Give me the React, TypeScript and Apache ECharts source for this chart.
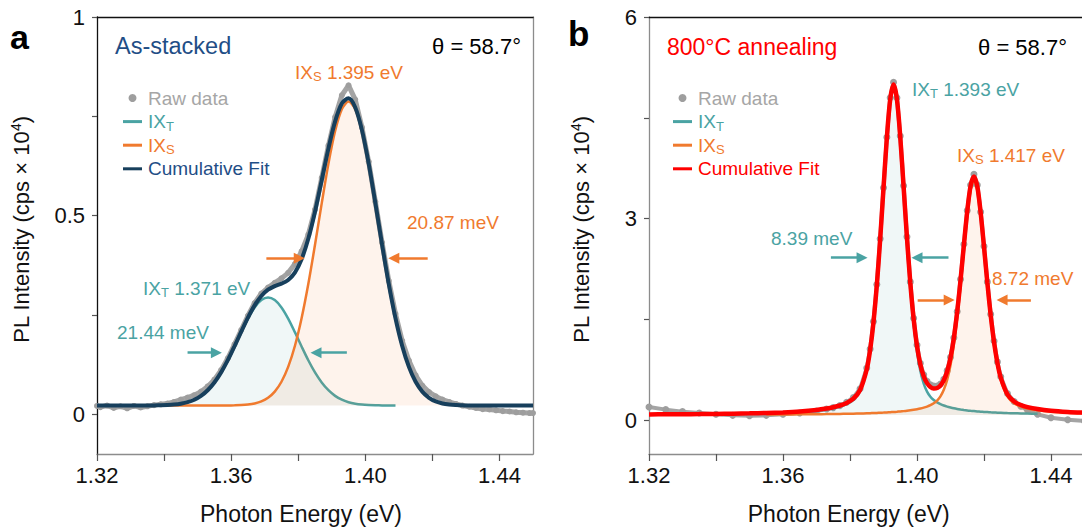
import { useEffect, useRef } from 'react';
import * as echarts from 'echarts';

const FONT = '"Liberation Sans", Arial, Helvetica, sans-serif';
const TEAL = '#4AA3A3';
const ORANGE = '#F07A2E';
const NAVY = '#173F5C';
const RED = '#FF0000';
const GREY = '#9E9E9E';

// ---------- Panel a (as-stacked) ----------
const energyA = [1.320, 1.321, 1.323, 1.325, 1.327, 1.329, 1.331, 1.333, 1.335, 1.337, 1.339, 1.341, 1.343, 1.345, 1.347, 1.349, 1.351, 1.353, 1.355, 1.357, 1.359, 1.361, 1.363, 1.365, 1.367, 1.369, 1.371, 1.373, 1.375, 1.377, 1.379, 1.381, 1.383, 1.385, 1.387, 1.389, 1.391, 1.393, 1.395, 1.397, 1.399, 1.401, 1.403, 1.405, 1.407, 1.409, 1.411, 1.413, 1.415, 1.417, 1.419, 1.421, 1.423, 1.425, 1.427, 1.429, 1.431, 1.433, 1.435, 1.437, 1.439, 1.441, 1.443, 1.445, 1.447, 1.449, 1.450];
const rawA = [0.021, 0.018, 0.022, 0.016, 0.020, 0.015, 0.021, 0.017, 0.020, 0.023, 0.025, 0.027, 0.031, 0.037, 0.042, 0.048, 0.057, 0.070, 0.087, 0.111, 0.141, 0.176, 0.212, 0.248, 0.280, 0.304, 0.319, 0.331, 0.342, 0.356, 0.378, 0.410, 0.452, 0.515, 0.595, 0.676, 0.748, 0.803, 0.828, 0.792, 0.722, 0.636, 0.535, 0.432, 0.336, 0.253, 0.185, 0.135, 0.098, 0.072, 0.056, 0.045, 0.037, 0.031, 0.026, 0.022, 0.019, 0.016, 0.013, 0.012, 0.010, 0.008, 0.007, 0.005, 0.004, 0.003, 0.003];
const cumA = [0.022, 0.022, 0.022, 0.022, 0.022, 0.022, 0.022, 0.022, 0.0221, 0.0223, 0.0226, 0.0232, 0.0244, 0.0266, 0.0304, 0.0366, 0.0463, 0.0605, 0.0800, 0.1054, 0.1362, 0.1712, 0.2079, 0.2434, 0.2742, 0.2978, 0.3135, 0.3225, 0.3288, 0.3381, 0.3566, 0.3903, 0.4417, 0.5099, 0.5889, 0.6688, 0.7372, 0.7823, 0.7954, 0.7723, 0.7153, 0.6315, 0.5315, 0.4269, 0.3277, 0.2416, 0.1718, 0.1192, 0.0818, 0.0570, 0.0415, 0.0323, 0.0272, 0.0245, 0.0231, 0.0225, 0.022, 0.022, 0.022, 0.022, 0.022, 0.022, 0.022, 0.022, 0.022, 0.022, 0.022];
const ixtA = [null, null, null, null, null, null, null, null, null, null, null, 0.0232, 0.0244, 0.0266, 0.0304, 0.0366, 0.0463, 0.0605, 0.0800, 0.1053, 0.1360, 0.1707, 0.2068, 0.2409, 0.2690, 0.2875, 0.294, 0.2875, 0.2690, 0.2409, 0.2068, 0.1707, 0.1360, 0.1053, 0.0800, 0.0605, 0.0463, 0.0366, 0.0304, 0.0266, 0.0244, 0.0232, 0.0226, 0.0223, 0.0221, 0.022, null, null, null, null, null, null, null, null, null, null, null, null, null, null, null, null, null, null, null, null, null];
const ixsA = [null, null, null, null, null, null, null, null, null, null, null, 0.022, 0.022, 0.022, 0.022, 0.022, 0.022, 0.022, 0.022, 0.0221, 0.0222, 0.0225, 0.0231, 0.0245, 0.0272, 0.0323, 0.0415, 0.0570, 0.0818, 0.1192, 0.1718, 0.2416, 0.3277, 0.4266, 0.5309, 0.6303, 0.7129, 0.7677, 0.787, 0.7677, 0.7129, 0.6303, 0.5309, 0.4266, 0.3277, 0.2416, 0.1718, 0.1192, 0.0818, 0.0570, 0.0415, 0.0323, 0.0272, 0.0245, null, null, null, null, null, null, null, null, null, null, null, null, null];
const baseA = 0.022;

// ---------- Panel b (800 °C annealing) ----------
const energyB = [1.320, 1.325, 1.330, 1.335, 1.340, 1.345, 1.350, 1.355, 1.360, 1.365, 1.370, 1.373, 1.375, 1.377, 1.379, 1.381, 1.383, 1.385, 1.386, 1.387, 1.388, 1.389, 1.390, 1.391, 1.392, 1.393, 1.394, 1.395, 1.396, 1.397, 1.398, 1.399, 1.400, 1.401, 1.402, 1.403, 1.404, 1.405, 1.406, 1.407, 1.408, 1.409, 1.410, 1.411, 1.412, 1.413, 1.414, 1.415, 1.416, 1.417, 1.418, 1.419, 1.420, 1.421, 1.422, 1.423, 1.424, 1.425, 1.427, 1.429, 1.431, 1.433, 1.436, 1.440, 1.445, 1.450];
const rawB = [0.20, 0.16, 0.13, 0.11, 0.09, 0.075, 0.07, 0.075, 0.09, 0.11, 0.14, 0.17, 0.19, 0.22, 0.27, 0.34, 0.47, 0.78, 1.06, 1.47, 2.02, 2.70, 3.46, 4.21, 4.80, 5.03, 4.80, 4.23, 3.49, 2.73, 2.06, 1.52, 1.12, 0.85, 0.68, 0.58, 0.53, 0.51, 0.51, 0.54, 0.61, 0.74, 0.94, 1.23, 1.62, 2.10, 2.62, 3.12, 3.50, 3.66, 3.50, 3.10, 2.59, 2.06, 1.58, 1.18, 0.87, 0.65, 0.40, 0.28, 0.21, 0.15, 0.09, 0.04, 0.01, -0.01];
const cumB = [0.0892, 0.0905, 0.0921, 0.0940, 0.0966, 0.0999, 0.1043, 0.1104, 0.1191, 0.1326, 0.1547, 0.1759, 0.1952, 0.2216, 0.2603, 0.3228, 0.4514, 0.761, 1.046, 1.457, 2.008, 2.690, 3.455, 4.201, 4.773, 4.995, 4.780, 4.216, 3.477, 2.720, 2.047, 1.506, 1.105, 0.8318, 0.6572, 0.554, 0.4977, 0.4761, 0.4825, 0.5197, 0.5962, 0.7277, 0.9329, 1.226, 1.615, 2.089, 2.610, 3.112, 3.488, 3.628, 3.479, 3.093, 2.582, 2.049, 1.564, 1.163, 0.856, 0.6356, 0.3867, 0.2798, 0.2287, 0.1977, 0.1682, 0.1438, 0.1259, 0.1144];
const ixtB = [null, null, null, null, null, null, null, 0.1035, 0.1110, 0.1229, 0.1428, 0.1623, 0.1803, 0.2052, 0.2422, 0.3026, 0.4287, 0.7355, 1.0189, 1.428, 1.977, 2.657, 3.419, 4.163, 4.732, 4.95, 4.732, 4.163, 3.419, 2.657, 1.977, 1.428, 1.0189, 0.7355, 0.548, 0.4287, 0.3522, 0.3026, 0.2675, 0.2422, 0.2217, 0.2052, 0.1920, 0.1803, 0.1706, 0.1623, 0.1548, 0.1482, 0.1428, 0.1380, 0.1334, 0.1297, 0.1259, 0.1229, 0.1199, 0.1175, 0.1151, 0.1131, 0.1092, 0.1063, 0.1034, 0.1014, 0.0984, null, null, null];
const ixsB = [null, null, null, null, null, null, null, 0.0869, 0.0881, 0.0897, 0.0919, 0.0936, 0.0949, 0.0964, 0.0981, 0.1002, 0.1027, 0.1055, 0.1071, 0.1090, 0.1109, 0.1132, 0.1155, 0.1180, 0.1212, 0.1247, 0.1284, 0.1327, 0.1377, 0.1432, 0.1498, 0.1575, 0.1662, 0.1763, 0.1892, 0.2053, 0.2255, 0.2535, 0.2950, 0.3575, 0.4545, 0.6025, 0.8209, 1.1256, 1.5245, 2.0065, 2.5356, 3.0434, 3.4252, 3.57, 3.4252, 3.0434, 2.5356, 2.0065, 1.5245, 1.1256, 0.8209, 0.6025, 0.3575, 0.2535, 0.2053, 0.1763, 0.1498, 0.1284, 0.1132, 0.1039];
const baseB = 0.08;

// ---------- Axes ----------
const xTicks = [1.32, 1.34, 1.36, 1.38, 1.40, 1.42, 1.44];
const xLabels = [1.32, 1.36, 1.40, 1.44];
const yTicksA = [0, 0.25, 0.5, 0.75, 1];
const yLabelsA = [0, 0.5, 1];
const yTicksB = [0, 1.5, 3, 4.5, 6];
const yLabelsB = [0, 3, 6];

// FWHM arrows (annotation): [from, to]
const arrowsA = [
  { from: [1.3705, 0.393], to: [1.3803, 0.393], color: ORANGE },
  { from: [1.4186, 0.393], to: [1.4085, 0.393], color: ORANGE },
  { from: [1.3470, 0.155], to: [1.3556, 0.155], color: TEAL },
  { from: [1.3945, 0.155], to: [1.3853, 0.155], color: TEAL },
];
const arrowsB = [
  { from: [1.3743, 2.42], to: [1.3836, 2.42], color: TEAL },
  { from: [1.4094, 2.42], to: [1.4000, 2.42], color: TEAL },
  { from: [1.4002, 1.79], to: [1.4096, 1.79], color: ORANGE },
  { from: [1.4340, 1.79], to: [1.4254, 1.79], color: ORANGE },
];

const zip = (xs: number[], ys: (number | null)[]) => xs.map((x, i) => [x, ys[i]]);

const LINE_ICON = 'path://M0,0H19V3H0Z';
const subRich = {
  m: { fontSize: 19, fontFamily: FONT, lineHeight: 22 },
  s: { fontSize: 13, fontFamily: FONT, lineHeight: 14, verticalAlign: 'bottom' },
};
const LEG_TEXT: Record<string, string> = {
  rawA: '{m|Raw data}', tA: '{m|IX}{s|T}', sA: '{m|IX}{s|S}', cumA: '{m|Cumulative Fit}',
  rawB: '{m|Raw data}', tB: '{m|IX}{s|T}', sB: '{m|IX}{s|S}', cumB: '{m|Cumulative Fit}',
};

function makeLegend(left: number, suffix: string, cumColor: string) {
  return {
    orient: 'vertical',
    left,
    top: 82,
    itemWidth: 19,
    itemHeight: 8,
    itemGap: 1.6,
    selectedMode: false,
    formatter: (n: string) => LEG_TEXT[n],
    textStyle: { fontSize: 19, fontFamily: FONT, lineHeight: 22, padding: [0, 0, 0, 1], rich: subRich },
    data: [
      { name: 'raw' + suffix, icon: 'circle', itemStyle: { color: GREY }, textStyle: { color: '#A6A6A6' } },
      { name: 't' + suffix, icon: LINE_ICON, itemStyle: { color: TEAL }, textStyle: { color: TEAL } },
      { name: 's' + suffix, icon: LINE_ICON, itemStyle: { color: ORANGE }, textStyle: { color: ORANGE } },
      { name: 'cum' + suffix, icon: LINE_ICON, itemStyle: { color: cumColor }, textStyle: { color: cumColor === RED ? RED : '#1F4E86' } },
    ],
  };
}

function bottomX(grid: number, padRight: number) {
  return {
    type: 'value', gridIndex: grid, min: 1.32, max: 1.45, position: 'bottom',
    axisLine: { show: true, onZero: false, lineStyle: { color: '#8C8C8C', width: 1.3 } },
    axisTick: { show: true, customValues: xTicks, length: 7, inside: false, lineStyle: { color: '#555', width: 1.2 } },
    axisLabel: { show: true, customValues: xLabels, formatter: (v: number) => v.toFixed(2), fontSize: 22, fontFamily: FONT, color: '#111', margin: 10 },
    splitLine: { show: false },
    name: 'Photon Energy (eV)', nameLocation: 'middle', nameGap: 48,
    nameTextStyle: { fontSize: 23, fontFamily: FONT, color: '#111', padding: [0, padRight, 0, 0] },
  };
}
function topX(grid: number) {
  return {
    type: 'value', gridIndex: grid, min: 1.32, max: 1.45, position: 'top',
    axisLine: { show: true, onZero: false, lineStyle: { color: '#111', width: 1.3 } },
    axisTick: { show: false }, axisLabel: { show: false }, splitLine: { show: false },
  };
}
function leftY(grid: number, min: number, max: number, ticks: number[], labels: number[], color: string, gap: number) {
  return {
    type: 'value', gridIndex: grid, min, max, position: 'left',
    axisLine: { show: true, onZero: false, lineStyle: { color, width: 1.3 } },
    axisTick: { show: true, customValues: ticks, length: 5, inside: false, lineStyle: { color: '#555', width: 1.2 } },
    axisLabel: { show: true, customValues: labels, formatter: (v: number) => String(v), fontSize: 22, fontFamily: FONT, color: '#111', margin: 12 },
    splitLine: { show: false },
    name: '{a|PL Intensity (cps × 10}{s|4}{a|)}', nameLocation: 'middle', nameGap: gap,
    nameTextStyle: {
      fontSize: 22, fontFamily: FONT, color: '#111', padding: [0, 0, 0, 12],
      rich: { a: { fontSize: 22, fontFamily: FONT, color: '#111', lineHeight: 25 }, s: { fontSize: 14, fontFamily: FONT, color: '#111', lineHeight: 14, verticalAlign: 'top' } },
    },
  };
}
function rightY(grid: number, min: number, max: number) {
  return {
    type: 'value', gridIndex: grid, min, max, position: 'right',
    axisLine: { show: true, onZero: false, lineStyle: { color: '#8C8C8C', width: 1.3 } },
    axisTick: { show: false }, axisLabel: { show: false }, splitLine: { show: false },
  };
}

function panelSeries(suffix: string, xIdx: number, yIdx: number, xs: number[], raw: number[], t: (number | null)[], s: (number | null)[], cum: number[], base: number, cumColor: string, cumWidth: number, rawWidth: number, rawSize: number, arrows: any[]) {
  return [
    {
      name: 'raw' + suffix, type: 'line', xAxisIndex: xIdx, yAxisIndex: yIdx, data: zip(xs, raw),
      symbol: 'circle', symbolSize: rawSize, showSymbol: true, showAllSymbol: true,
      itemStyle: { color: GREY }, lineStyle: { color: '#A4A4A4', width: rawWidth }, z: 1, silent: true,
    },
    {
      name: 't' + suffix, type: 'line', xAxisIndex: xIdx, yAxisIndex: yIdx, data: zip(xs, t),
      showSymbol: false, smooth: 0.3, itemStyle: { color: TEAL }, lineStyle: { color: TEAL, width: 2.5 },
      areaStyle: { color: 'rgba(74,163,163,0.12)', origin: base }, z: 2, silent: true,
    },
    {
      name: 's' + suffix, type: 'line', xAxisIndex: xIdx, yAxisIndex: yIdx, data: zip(xs, s),
      showSymbol: false, smooth: 0.3, itemStyle: { color: ORANGE }, lineStyle: { color: ORANGE, width: 2.5 },
      areaStyle: { color: 'rgba(240,122,46,0.13)', origin: base }, z: 3, silent: true,
    },
    {
      name: 'cum' + suffix, type: 'line', xAxisIndex: xIdx, yAxisIndex: yIdx, data: zip(xs, cum),
      showSymbol: false, smooth: 0.3, itemStyle: { color: cumColor }, lineStyle: { color: cumColor, width: cumWidth }, z: 4, silent: true,
    },
    {
      name: 'arrows' + suffix, type: 'line', xAxisIndex: xIdx, yAxisIndex: yIdx, data: [], z: 5, silent: true,
      markLine: {
        silent: true, symbol: ['none', 'triangle'], symbolSize: 11, label: { show: false },
        lineStyle: { width: 2.5, type: 'solid' }, emphasis: { disabled: true },
        data: arrows.map((a) => [
          { coord: a.from, lineStyle: { color: a.color, width: 2.5, type: 'solid' }, itemStyle: { color: a.color } },
          { coord: a.to },
        ]),
      },
    },
  ];
}

function txt(x: number, y: number, text: string, color: string, size: number, align = 'left', weight = 'normal') {
  return {
    type: 'text', x, y, silent: true,
    style: {
      text, fill: color, fontSize: size, fontFamily: FONT, fontWeight: weight,
      align, textAlign: align, verticalAlign: 'middle', textVerticalAlign: 'middle',
      rich: {
        m: { fontSize: size, fontFamily: FONT, fill: color, lineHeight: 22 },
        s: { fontSize: 13, fontFamily: FONT, fill: color, lineHeight: 14, verticalAlign: 'bottom' },
      },
    },
  };
}

export default function App() {
  const ref = useRef<HTMLDivElement>(null);
  useEffect(() => {
    if (!ref.current) return;
    const chart = echarts.init(ref.current, undefined, { renderer: 'svg' });
    const option: any = {
      animation: false,
      textStyle: { fontFamily: FONT },
      grid: [
        { left: 97, top: 17, width: 436, height: 437, outerBoundsMode: 'none' },
        { left: 649, top: 17, width: 435.5, height: 437, outerBoundsMode: 'none' },
      ],
      xAxis: [bottomX(0, 28), topX(0), bottomX(1, 36), topX(1)],
      yAxis: [
        leftY(0, -0.1, 1, yTicksA, yLabelsA, '#111', 63),
        rightY(0, -0.1, 1),
        leftY(1, -0.5, 6, yTicksB, yLabelsB, '#8C8C8C', 55),
        rightY(1, -0.5, 6),
      ],
      legend: [makeLegend(118, 'A', NAVY), makeLegend(668, 'B', RED)],
      series: [
        ...panelSeries('A', 0, 0, energyA, rawA, ixtA, ixsA, cumA, baseA, NAVY, 4, 5, 6, arrowsA),
        ...panelSeries('B', 2, 2, energyB, rawB, ixtB, ixsB, cumB, baseB, RED, 4.5, 4, 7, arrowsB),
      ],
      graphic: [
        txt(10, 37, 'a', '#000', 34, 'left', 'bold'),
        txt(568, 33, 'b', '#000', 35, 'left', 'bold'),
        txt(115, 46, 'As-stacked', '#1F4E86', 23.5),
        txt(521, 46, 'θ = 58.7°', '#000', 22, 'right'),
        txt(295, 72, '{m|IX}{s|S}{m| 1.395 eV}', ORANGE, 19),
        txt(407, 222, '20.87 meV', ORANGE, 19),
        txt(143, 288, '{m|IX}{s|T}{m| 1.371 eV}', TEAL, 19),
        txt(117, 332, '21.44 meV', TEAL, 19),
        txt(667, 47, '800°C annealing', RED, 23),
        txt(1067, 47, 'θ = 58.7°', '#000', 22, 'right'),
        txt(912, 89, '{m|IX}{s|T}{m| 1.393 eV}', TEAL, 19),
        txt(957, 155, '{m|IX}{s|S}{m| 1.417 eV}', ORANGE, 19),
        txt(771, 238, '8.39 meV', TEAL, 19),
        txt(992, 278, '8.72 meV', ORANGE, 19),
      ],
    };
    chart.setOption(option);
    return () => chart.dispose();
  }, []);
  return (
    <div
      ref={ref}
      style={{ position: 'fixed', left: 0, top: 0, width: 1082, height: 532, background: '#fff' }}
    />
  );
}
